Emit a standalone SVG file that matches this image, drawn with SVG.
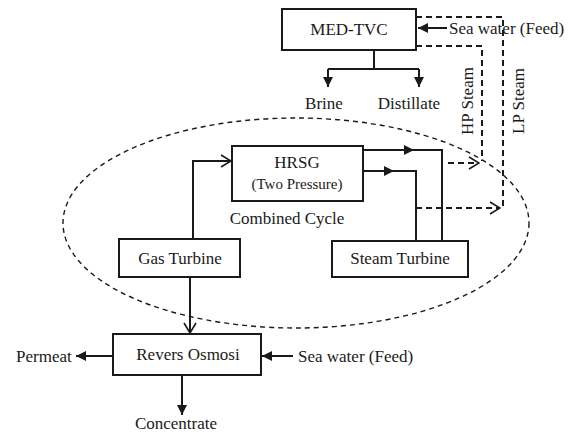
<svg xmlns="http://www.w3.org/2000/svg" width="569" height="432" viewBox="0 0 569 432">
<style>
text{font-family:"Liberation Serif","Times New Roman",serif;font-size:17px;fill:#1a1a1a}
.box{fill:#fff;stroke:#1a1a1a;stroke-width:2}
.ln{fill:none;stroke:#1a1a1a;stroke-width:2}
.dl{fill:none;stroke:#1a1a1a;stroke-width:2;stroke-dasharray:6,4}
.el{fill:none;stroke:#1a1a1a;stroke-width:1.4;stroke-dasharray:5,4}
.m{text-anchor:middle}
</style>
<defs>
<marker id="fa" viewBox="0 0 10 10" refX="10" refY="5" markerWidth="10" markerHeight="10" markerUnits="userSpaceOnUse" orient="auto"><path d="M0,0L10,5L0,10z" fill="#1a1a1a"/></marker>
<marker id="oa" viewBox="0 0 12 14" refX="11" refY="7" markerWidth="12" markerHeight="14" markerUnits="userSpaceOnUse" orient="auto"><path d="M1,1L11,7L1,13" fill="none" stroke="#1a1a1a" stroke-width="1.6"/></marker>
</defs>
<ellipse class="el" cx="296" cy="223" rx="233" ry="105"/>
<g id="connectors">
<path class="ln" d="M447,28H418" marker-end="url(#fa)"/>
<path class="dl" d="M416,17H503V208"/>
<path class="dl" d="M416,208H500" marker-end="url(#oa)"/>
<path class="dl" d="M416,46H482V161"/>
<path class="dl" d="M448,163H479" marker-end="url(#oa)"/>
<path class="ln" d="M374,50V69M328,69H419"/>
<path class="ln" d="M328,69V87" marker-end="url(#fa)"/>
<path class="ln" d="M419,69V87" marker-end="url(#fa)"/>
<path class="ln" d="M193,239V161H231" marker-end="url(#oa)"/>
<path class="ln" d="M363,150H442V241"/>
<polygon points="404,145 414,150 404,155" fill="#1a1a1a"/>
<path class="ln" d="M363,171H416V241"/>
<polygon points="384,166 394,171 384,176" fill="#1a1a1a"/>
<path class="ln" d="M190,277V333" marker-end="url(#oa)"/>
<path class="ln" d="M113,356H76" marker-end="url(#fa)"/>
<path class="ln" d="M293,356H262" marker-end="url(#fa)"/>
<path class="ln" d="M182,375V415" marker-end="url(#fa)"/>
</g>
<g id="med-tvc"><rect class="box" x="282" y="9" width="134" height="41"/><text class="m" x="349" y="35">MED-TVC</text></g>
<g id="sea-water-top"><text x="449" y="34">Sea water (Feed)</text></g>
<g id="brine"><text class="m" x="324" y="109">Brine</text></g>
<g id="distillate"><text class="m" x="409" y="109">Distillate</text></g>
<g id="hp-steam"><text class="m" transform="translate(473,101) rotate(-90)">HP Steam</text></g>
<g id="lp-steam"><text class="m" transform="translate(524,101) rotate(-90)">LP Steam</text></g>
<g id="hrsg"><rect class="box" x="232" y="146" width="131" height="55"/><text class="m" x="297" y="168">HRSG</text><text class="m" x="297" y="189" style="font-size:15px">(Two Pressure)</text></g>
<g id="combined-cycle"><text class="m" x="287" y="224">Combined Cycle</text></g>
<g id="gas-turbine"><rect class="box" x="119" y="239" width="121" height="38"/><text class="m" x="180" y="264">Gas Turbine</text></g>
<g id="steam-turbine"><rect class="box" x="332" y="241" width="136" height="36"/><text class="m" x="400" y="264">Steam Turbine</text></g>
<g id="reverse-osmosis"><rect class="box" x="113" y="334" width="148" height="41"/><text class="m" x="188" y="360">Revers Osmosi</text></g>
<g id="permeat"><text x="16" y="362">Permeat</text></g>
<g id="sea-water-bottom"><text x="298" y="362">Sea water (Feed)</text></g>
<g id="concentrate"><text class="m" x="176" y="429">Concentrate</text></g>
</svg>
